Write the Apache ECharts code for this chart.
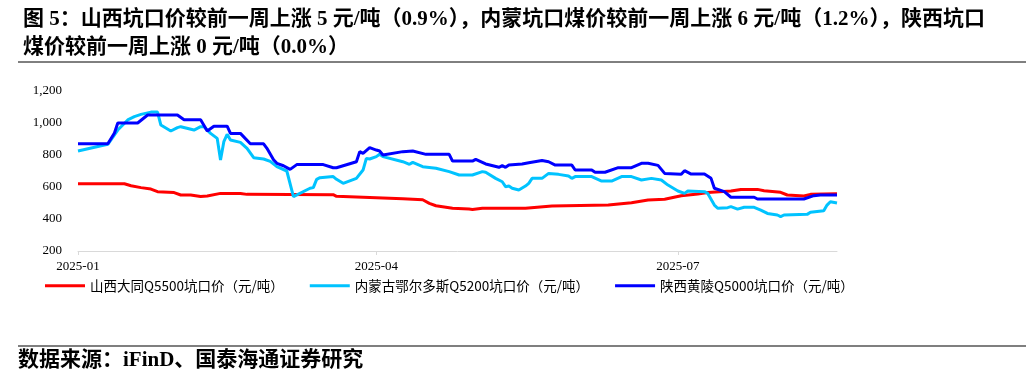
<!DOCTYPE html>
<html>
<head>
<meta charset="utf-8">
<script src="https://cdn.jsdelivr.net/npm/echarts@6/dist/echarts.min.js"></script>
<style>
  html, body { margin: 0; padding: 0; background: #fff; }
  #chart { width: 1032px; height: 378px; }
</style>
</head>
<body>
<div id="chart"></div>
<script>
// 标题 / 来源
const titleLine1 = '图 5：山西坑口价较前一周上涨 5 元/吨（0.9%），内蒙坑口煤价较前一周上涨 6 元/吨（1.2%），陕西坑口';
const titleLine2 = '煤价较前一周上涨 0 元/吨（0.0%）';
const sourceText = '数据来源：iFinD、国泰海通证券研究';

const seriesNames = ['山西大同Q5500坑口价（元/吨）', '内蒙古鄂尔多斯Q5200坑口价（元/吨）', '陕西黄陵Q5000坑口价（元/吨）'];
const tickDates = ['2025-01-01', '2025-04-01', '2025-07-01'];
const xRange = ['2025-01-01', '2025-08-18'];

// 山西大同Q5500
const shanxiDatong = [
  ['2025-01-01', 620], ['2025-01-15', 620], ['2025-01-17', 608], ['2025-01-20', 596],
  ['2025-01-23', 587], ['2025-01-25', 571], ['2025-01-30', 565], ['2025-02-01', 550],
  ['2025-02-04', 550], ['2025-02-07', 540], ['2025-02-09', 544], ['2025-02-13', 560],
  ['2025-02-19', 560], ['2025-02-21', 554], ['2025-03-19', 552], ['2025-03-20', 542],
  ['2025-03-30', 535], ['2025-04-09', 527], ['2025-04-15', 520], ['2025-04-17', 498],
  ['2025-04-19', 483], ['2025-04-24', 467], ['2025-04-29', 462], ['2025-04-30', 460],
  ['2025-05-03', 467], ['2025-05-16', 467], ['2025-05-24', 481], ['2025-06-10', 487],
  ['2025-06-17', 502], ['2025-06-22', 519], ['2025-06-27', 523], ['2025-07-02', 545],
  ['2025-07-07', 556], ['2025-07-10', 565], ['2025-07-17', 575], ['2025-07-20', 585],
  ['2025-07-25', 585], ['2025-07-27', 577], ['2025-08-01', 567], ['2025-08-03', 550],
  ['2025-08-08', 544], ['2025-08-10', 554], ['2025-08-18', 558]
];

// 内蒙古鄂尔多斯Q5200
const neimengOrdos = [
  ['2025-01-01', 825], ['2025-01-10', 867], ['2025-01-13', 956], ['2025-01-16', 1019],
  ['2025-01-18', 1040], ['2025-01-20', 1054], ['2025-01-23', 1068], ['2025-01-25', 1068],
  ['2025-01-26', 987], ['2025-01-29', 950], ['2025-01-31', 971], ['2025-02-01', 977],
  ['2025-02-05', 956], ['2025-02-07', 977], ['2025-02-08', 977], ['2025-02-10', 935],
  ['2025-02-12', 904], ['2025-02-13', 769], ['2025-02-14', 883], ['2025-02-15', 929],
  ['2025-02-16', 894], ['2025-02-19', 879], ['2025-02-21', 842], ['2025-02-23', 783],
  ['2025-02-26', 775], ['2025-02-28', 760], ['2025-03-02', 727], ['2025-03-05', 700],
  ['2025-03-07', 540], ['2025-03-12', 592], ['2025-03-13', 596], ['2025-03-14', 648],
  ['2025-03-15', 658], ['2025-03-19', 665], ['2025-03-20', 648], ['2025-03-22', 623],
  ['2025-03-26', 654], ['2025-03-28', 706], ['2025-03-29', 779], ['2025-03-30', 775],
  ['2025-04-01', 790], ['2025-04-02', 805], ['2025-04-03', 790], ['2025-04-09', 758],
  ['2025-04-11', 742], ['2025-04-12', 754], ['2025-04-15', 727], ['2025-04-19', 717],
  ['2025-04-23', 696], ['2025-04-26', 675], ['2025-04-30', 675], ['2025-05-03', 696],
  ['2025-05-04', 692], ['2025-05-07', 654], ['2025-05-09', 633], ['2025-05-10', 602],
  ['2025-05-11', 606], ['2025-05-12', 592], ['2025-05-14', 581], ['2025-05-16', 606],
  ['2025-05-17', 623], ['2025-05-18', 654], ['2025-05-21', 654], ['2025-05-23', 685],
  ['2025-05-26', 679], ['2025-05-29', 669], ['2025-05-30', 654], ['2025-05-31', 665],
  ['2025-06-05', 665], ['2025-06-08', 637], ['2025-06-11', 637], ['2025-06-14', 665],
  ['2025-06-17', 665], ['2025-06-20', 644], ['2025-06-23', 654], ['2025-06-26', 644],
  ['2025-06-28', 612], ['2025-07-01', 575], ['2025-07-03', 560], ['2025-07-04', 575],
  ['2025-07-09', 571], ['2025-07-10', 560], ['2025-07-12', 487], ['2025-07-13', 467],
  ['2025-07-16', 471], ['2025-07-17', 477], ['2025-07-19', 462], ['2025-07-21', 473],
  ['2025-07-24', 473], ['2025-07-26', 456], ['2025-07-28', 435], ['2025-07-31', 425],
  ['2025-08-01', 415], ['2025-08-02', 425], ['2025-08-09', 429], ['2025-08-10', 442],
  ['2025-08-14', 452], ['2025-08-15', 487], ['2025-08-16', 508], ['2025-08-18', 500]
];

// 陕西黄陵Q5000
const shaanxiHuangling = [
  ['2025-01-01', 870], ['2025-01-10', 870], ['2025-01-12', 937], ['2025-01-13', 1000],
  ['2025-01-19', 1000], ['2025-01-22', 1050], ['2025-01-31', 1050], ['2025-02-02', 1020],
  ['2025-02-07', 1020], ['2025-02-09', 950], ['2025-02-11', 980], ['2025-02-15', 980],
  ['2025-02-16', 935], ['2025-02-19', 935], ['2025-02-22', 870], ['2025-02-26', 870],
  ['2025-02-27', 842], ['2025-03-01', 770], ['2025-03-02', 748], ['2025-03-04', 733],
  ['2025-03-06', 710], ['2025-03-08', 740], ['2025-03-16', 740], ['2025-03-19', 720],
  ['2025-03-20', 720], ['2025-03-22', 733], ['2025-03-26', 758], ['2025-03-27', 821],
  ['2025-03-28', 810], ['2025-03-30', 846], ['2025-04-01', 831], ['2025-04-02', 825],
  ['2025-04-03', 800], ['2025-04-09', 821], ['2025-04-12', 825], ['2025-04-16', 804],
  ['2025-04-23', 804], ['2025-04-24', 762], ['2025-04-30', 762], ['2025-05-01', 773],
  ['2025-05-04', 744], ['2025-05-08', 723], ['2025-05-09', 733], ['2025-05-10', 723],
  ['2025-05-11', 737], ['2025-05-15', 744], ['2025-05-17', 752], ['2025-05-21', 765],
  ['2025-05-23', 758], ['2025-05-25', 737], ['2025-05-30', 737], ['2025-05-31', 706],
  ['2025-06-05', 706], ['2025-06-06', 692], ['2025-06-09', 692], ['2025-06-13', 721],
  ['2025-06-17', 721], ['2025-06-20', 748], ['2025-06-22', 748], ['2025-06-25', 735],
  ['2025-06-27', 685], ['2025-07-02', 679], ['2025-07-03', 702], ['2025-07-05', 681],
  ['2025-07-09', 681], ['2025-07-11', 654], ['2025-07-12', 592], ['2025-07-15', 571],
  ['2025-07-17', 536], ['2025-07-24', 536], ['2025-07-25', 525], ['2025-08-08', 525],
  ['2025-08-11', 546], ['2025-08-13', 550], ['2025-08-18', 550]
];

const seriesColors = ['#ff0000', '#00c3ff', '#0000ff'];

// 日期转为时间戳（本地时间）
function ts(s) {
  const p = s.split('-');
  return new Date(+p[0], +p[1] - 1, +p[2]).getTime();
}
function toPoints(arr) {
  return arr.map(function (d) { return [ts(d[0]), d[1]]; });
}

const serifFont = '"Times New Roman", "Liberation Serif", "Noto Sans CJK SC", serif';
const chart = echarts.init(document.getElementById('chart'));
const tickValues = tickDates.map(ts);

const option = {
  animation: false,
  backgroundColor: '#fff',
  title: {
    text: titleLine1 + '\n' + titleLine2,
    left: 18,
    top: 1,
    textStyle: {
      fontFamily: serifFont,
      fontSize: 21,
      fontWeight: 'bold',
      lineHeight: 28,
      color: '#000'
    }
  },
  grid: {
    left: 78,
    right: 195,
    top: 91,
    bottom: 127
  },
  legend: {
    data: seriesNames,
    left: 45,
    top: 279,
    padding: 0,
    icon: 'rect',
    itemWidth: 40,
    itemHeight: 3,
    itemGap: 26,
    textStyle: {
      fontFamily: '"Noto Sans CJK SC", sans-serif',
      fontSize: 13.5,
      color: '#000'
    }
  },
  xAxis: {
    type: 'value',
    min: ts(xRange[0]),
    max: ts(xRange[1]),
    axisLine: { lineStyle: { color: '#d9d9d9', width: 1 } },
    axisTick: {
      show: true,
      customValues: tickValues,
      length: 4,
      lineStyle: { color: '#d9d9d9' }
    },
    axisLabel: {
      customValues: tickValues,
      margin: 9,
      fontFamily: serifFont,
      fontSize: 13,
      color: '#000',
      formatter: function (v) {
        const d = new Date(v);
        const m = d.getMonth() + 1;
        return d.getFullYear() + '-' + (m < 10 ? '0' + m : m);
      }
    },
    splitLine: { show: false }
  },
  yAxis: {
    type: 'value',
    min: 200,
    max: 1200,
    interval: 200,
    axisLine: { show: false },
    axisTick: { show: false },
    splitLine: { show: false },
    axisLabel: {
      margin: 16,
      fontFamily: serifFont,
      fontSize: 13,
      color: '#000',
      formatter: function (v) { return v.toLocaleString('en-US'); }
    }
  },
  series: [
    {
      name: seriesNames[0],
      type: 'line',
      data: toPoints(shanxiDatong),
      symbol: 'none',
      itemStyle: { color: seriesColors[0] },
      lineStyle: { width: 3, color: seriesColors[0] }
    },
    {
      name: seriesNames[1],
      type: 'line',
      data: toPoints(neimengOrdos),
      symbol: 'none',
      itemStyle: { color: seriesColors[1] },
      lineStyle: { width: 3, color: seriesColors[1] }
    },
    {
      name: seriesNames[2],
      type: 'line',
      data: toPoints(shaanxiHuangling),
      symbol: 'none',
      itemStyle: { color: seriesColors[2] },
      lineStyle: { width: 3, color: seriesColors[2] }
    }
  ],
  graphic: [
    {
      type: 'line',
      shape: { x1: 18, y1: 62, x2: 1026, y2: 62 },
      style: { stroke: '#000', lineWidth: 1 }
    },
    {
      type: 'line',
      shape: { x1: 18, y1: 346, x2: 1026, y2: 346 },
      style: { stroke: '#7f7f7f', lineWidth: 2 }
    },
    {
      type: 'text',
      left: 18,
      top: 350,
      style: {
        text: sourceText,
        font: 'bold 21px ' + serifFont,
        fill: '#000'
      }
    }
  ]
};

chart.setOption(option);
</script>
</body>
</html>
